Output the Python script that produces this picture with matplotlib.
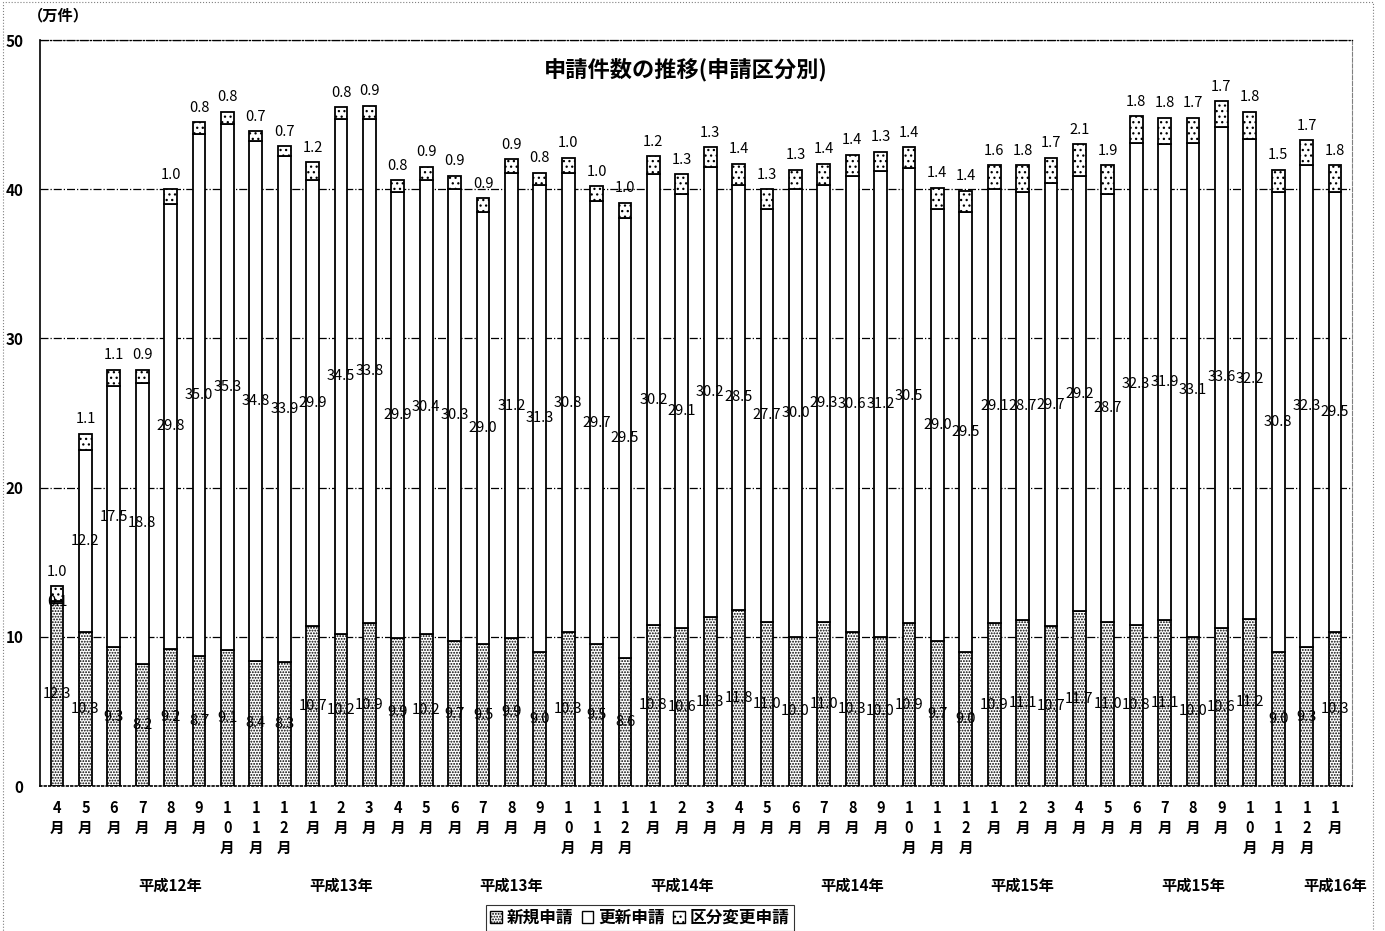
import numpy as np
import matplotlib
matplotlib.use("Agg")
import matplotlib.pyplot as plt
from matplotlib.patches import Patch, Rectangle
from matplotlib.transforms import blended_transform_factory

plt.rcParams['font.family'] = ['Noto Sans CJK JP', 'DejaVu Sans']
plt.rcParams['hatch.linewidth'] = 0.9

# 平成12年4月 ～ 平成16年1月 (単位: 万件)
months = [4, 5, 6, 7, 8, 9, 10, 11, 12,
          1, 2, 3, 4, 5, 6, 7, 8, 9, 10, 11, 12,
          1, 2, 3, 4, 5, 6, 7, 8, 9, 10, 11, 12,
          1, 2, 3, 4, 5, 6, 7, 8, 9, 10, 11, 12,
          1]
shinki = [12.3, 10.3, 9.3, 8.2, 9.2, 8.7, 9.1, 8.4, 8.3,
          10.7, 10.2, 10.9, 9.9, 10.2, 9.7, 9.5, 9.9, 9.0, 10.3, 9.5, 8.6,
          10.8, 10.6, 11.3, 11.8, 11.0, 10.0, 11.0, 10.3, 10.0, 10.9, 9.7, 9.0,
          10.9, 11.1, 10.7, 11.7, 11.0, 10.8, 11.1, 10.0, 10.6, 11.2, 9.0, 9.3,
          10.3]
koushin = [0.1, 12.2, 17.5, 18.8, 29.8, 35.0, 35.3, 34.8, 33.9,
           29.9, 34.5, 33.8, 29.9, 30.4, 30.3, 29.0, 31.2, 31.3, 30.8, 29.7, 29.5,
           30.2, 29.1, 30.2, 28.5, 27.7, 30.0, 29.3, 30.6, 31.2, 30.5, 29.0, 29.5,
           29.1, 28.7, 29.7, 29.2, 28.7, 32.3, 31.9, 33.1, 33.6, 32.2, 30.8, 32.3,
           29.5]
kubun = [1.0, 1.1, 1.1, 0.9, 1.0, 0.8, 0.8, 0.7, 0.7,
         1.2, 0.8, 0.9, 0.8, 0.9, 0.9, 0.9, 0.9, 0.8, 1.0, 1.0, 1.0,
         1.2, 1.3, 1.3, 1.4, 1.3, 1.3, 1.4, 1.4, 1.3, 1.4, 1.4, 1.4,
         1.6, 1.8, 1.7, 2.1, 1.9, 1.8, 1.8, 1.7, 1.7, 1.8, 1.5, 1.7,
         1.8]
year_pos = [4, 10, 16, 22, 28, 34, 40, 45]
year_labels = ['平成12年', '平成13年', '平成13年', '平成14年',
               '平成14年', '平成15年', '平成15年', '平成16年']

x = np.arange(len(months))
shinki = np.array(shinki)
koushin = np.array(koushin)
kubun = np.array(kubun)
w = 0.45

fig = plt.figure(figsize=(13.85, 9.31), dpi=100)
ax = fig.add_axes([0.0289, 0.1557, 0.9473, 0.8013])

ax.bar(x, shinki, w, color='white', edgecolor='black', hatch='......', lw=1.3, zorder=3)
ax.bar(x, koushin, w, bottom=shinki, color='white', edgecolor='black', lw=1.3, zorder=3)
ax.bar(x, kubun, w, bottom=shinki + koushin, color='white', edgecolor='black',
       hatch='...', lw=1.3, zorder=3)

# 数値ラベル
for i in x:
    ax.text(i, shinki[i] / 2, f'{shinki[i]:.1f}', ha='center', va='center',
            fontsize=10.5, zorder=4)
    ax.text(i, shinki[i] + koushin[i] / 2, f'{koushin[i]:.1f}', ha='center',
            va='center', fontsize=10.5, zorder=4)
    top = shinki[i] + koushin[i] + kubun[i]
    ax.text(i, top + 0.5, f'{kubun[i]:.1f}', ha='center', va='bottom',
            fontsize=10.5, zorder=4)

ax.set_xlim(-0.6, len(months) - 0.4)
ax.set_ylim(0, 50)
ax.set_yticks([0, 10, 20, 30, 40, 50])
ax.set_yticklabels(['0', '10', '20', '30', '40', '50'], fontsize=11, fontweight='bold')
ax.tick_params(axis='y', length=0, pad=12)
ax.grid(axis='y', color='black', ls='-.', lw=0.9, zorder=0)

ax.set_xticks(x)
ax.set_xticklabels(['\n'.join(list(str(m))) + '\n月' for m in months],
                   fontsize=10.5, fontweight='bold', va='top', linespacing=1.3)
ax.tick_params(axis='x', length=0, pad=10)

ax.spines['left'].set_color('black')
ax.spines['left'].set_linewidth(1.2)
ax.spines['bottom'].set_linestyle(':')
ax.spines['bottom'].set_linewidth(1.2)
ax.spines['top'].set_linestyle('-.')
ax.spines['top'].set_linewidth(0.9)
ax.spines['right'].set_linestyle('--')
ax.spines['right'].set_linewidth(0.8)
ax.spines['right'].set_color('gray')

trans = blended_transform_factory(ax.transData, ax.transAxes)
for p, lab in zip(year_pos, year_labels):
    ax.text(p, -0.133, lab, transform=trans, ha='center', va='center',
            fontsize=11, fontweight='bold')

ax.text(0.492, 0.96, '申請件数の推移(申請区分別)', transform=ax.transAxes,
        ha='center', va='center', fontsize=16, fontweight='bold')
fig.text(0.02, 0.983, '（万件）', ha='left', va='center', fontsize=11, fontweight='bold')

handles = [Patch(facecolor='white', edgecolor='black', hatch='......', label='新規申請'),
           Patch(facecolor='white', edgecolor='black', label='更新申請'),
           Patch(facecolor='white', edgecolor='black', hatch='...', label='区分変更申請')]
leg = fig.legend(handles=handles, loc='center', bbox_to_anchor=(0.462, 0.014), ncol=3,
                 prop={'size': 12, 'weight': 'bold'}, frameon=True, fancybox=False,
                 handlelength=0.7, handleheight=0.7, handletextpad=0.3,
                 columnspacing=0.5, borderpad=0.25)
leg.get_frame().set_edgecolor('black')
leg.get_frame().set_linewidth(0.8)

# 外枠
fig.add_artist(Rectangle((0.002, -0.01), 0.989, 1.008, transform=fig.transFigure,
                         fill=False, ls=':', lw=0.8, ec='gray'))

fig.savefig('out.png', dpi=100)
